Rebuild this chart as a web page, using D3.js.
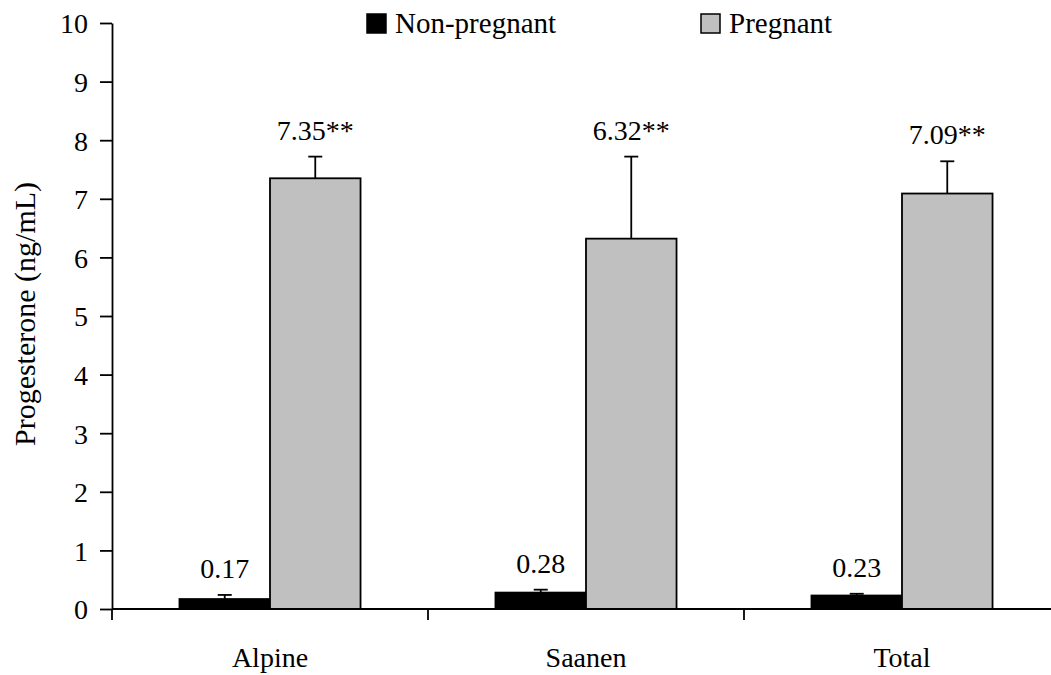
<!DOCTYPE html>
<html>
<head>
<meta charset="utf-8">
<script src="https://cdn.jsdelivr.net/npm/d3@7/dist/d3.min.js"></script>
<style>
html,body{margin:0;padding:0;background:#fff;}
svg text{font-family:"Times New Roman","Liberation Serif",Times,"DejaVu Serif",serif !important;fill:#000;}
</style>
</head>
<body>
<svg id="chart" width="1051" height="675"></svg>
<script>
const categories = ["Alpine", "Saanen", "Total"];
const seriesNames = ["Non-pregnant", "Pregnant"];
const nonPregnant = [0.17, 0.28, 0.23];
const nonPregnantErr = [0.07, 0.05, 0.03];
const pregnant = [7.35, 6.32, 7.09];
const pregnantErr = [0.37, 1.40, 0.55];
const pregnantMark = "**";
const yTicks = [0,1,2,3,4,5,6,7,8,9,10];

const colors = {"Non-pregnant": "#000000", "Pregnant": "#c0c0c0"};
const FONT = '"Times New Roman","Liberation Serif",Times,serif';

const svg = d3.select("#chart");
const fs = 28;
const fsBig = 29;

const y = d3.scaleLinear().domain([0, 10]).range([609, 23]);
const x0 = d3.scaleBand().domain(categories).range([112, 1060]).paddingInner(0).paddingOuter(0);
const bw = x0.bandwidth();
const x1 = d3.scaleBand().domain(seriesNames).range([bw * 0.2135, bw * 0.7865]).padding(0);

const rows = [];
categories.forEach((c, i) => {
  rows.push({cat: c, s: "Non-pregnant", v: nonPregnant[i], e: nonPregnantErr[i], label: nonPregnant[i].toFixed(2)});
  rows.push({cat: c, s: "Pregnant", v: pregnant[i], e: pregnantErr[i], label: pregnant[i].toFixed(2) + pregnantMark});
});

// bars
svg.append("g").selectAll("rect").data(rows).join("rect")
  .attr("x", d => x0(d.cat) + x1(d.s))
  .attr("y", d => y(d.v))
  .attr("width", x1.bandwidth())
  .attr("height", d => y(0) - y(d.v))
  .attr("fill", d => colors[d.s])
  .attr("stroke", "#000")
  .attr("stroke-width", 1.8);

// error bars
const eg = svg.append("g").attr("stroke", "#000").attr("stroke-width", 1.8);
rows.forEach(d => {
  const cx = x0(d.cat) + x1(d.s) + x1.bandwidth() / 2;
  eg.append("line").attr("x1", cx).attr("x2", cx).attr("y1", y(d.v)).attr("y2", y(d.v + d.e));
  eg.append("line").attr("x1", cx - 7).attr("x2", cx + 7).attr("y1", y(d.v + d.e)).attr("y2", y(d.v + d.e));
});

// value labels
svg.append("g").selectAll("text").data(rows).join("text")
  .attr("x", d => x0(d.cat) + x1(d.s) + x1.bandwidth() / 2)
  .attr("y", d => y(d.v + d.e) - 17)
  .attr("text-anchor", "middle")
  .attr("font-family", FONT)
  .attr("font-size", fs)
  .text(d => d.label);

// y axis
const yAxis = svg.append("g").attr("transform", "translate(112,0)")
  .call(d3.axisLeft(y).tickValues(yTicks).tickSize(12).tickSizeOuter(0).tickPadding(12).tickFormat(d3.format("d")));
yAxis.attr("font-family", FONT);
yAxis.select(".domain").attr("stroke-width", 1.8);
yAxis.selectAll(".tick line").attr("stroke-width", 1.8);
yAxis.selectAll(".tick text").attr("font-size", fs).attr("font-family", FONT).attr("dy", "0.35em");

// x axis
svg.append("line").attr("x1", 112).attr("x2", 1051).attr("y1", y(0)).attr("y2", y(0))
  .attr("stroke", "#000").attr("stroke-width", 1.8);
const bounds = categories.map(c => x0(c));
svg.append("g").selectAll("line").data(bounds).join("line")
  .attr("x1", d => d).attr("x2", d => d)
  .attr("y1", y(0)).attr("y2", y(0) + 11)
  .attr("stroke", "#000").attr("stroke-width", 1.8);
svg.append("g").selectAll("text").data(categories).join("text")
  .attr("x", d => x0(d) + bw / 2)
  .attr("y", 667)
  .attr("text-anchor", "middle")
  .attr("font-family", FONT)
  .attr("font-size", fs)
  .text(d => d);

// y title
svg.append("text")
  .attr("transform", "translate(35," + 314 + ") rotate(-90)")
  .attr("text-anchor", "middle")
  .attr("font-family", FONT)
  .attr("font-size", 30)
  .text("Progesterone (ng/mL)");

// legend
const legendX = [367, 701];
seriesNames.forEach((s, i) => {
  svg.append("rect").attr("x", legendX[i]).attr("y", 14).attr("width", 19).attr("height", 19)
    .attr("fill", colors[s]).attr("stroke", "#000").attr("stroke-width", 1.5);
  svg.append("text").attr("x", legendX[i] + 28).attr("y", 33)
    .attr("font-family", FONT).attr("font-size", fsBig).text(s);
});
</script>
</body>
</html>
